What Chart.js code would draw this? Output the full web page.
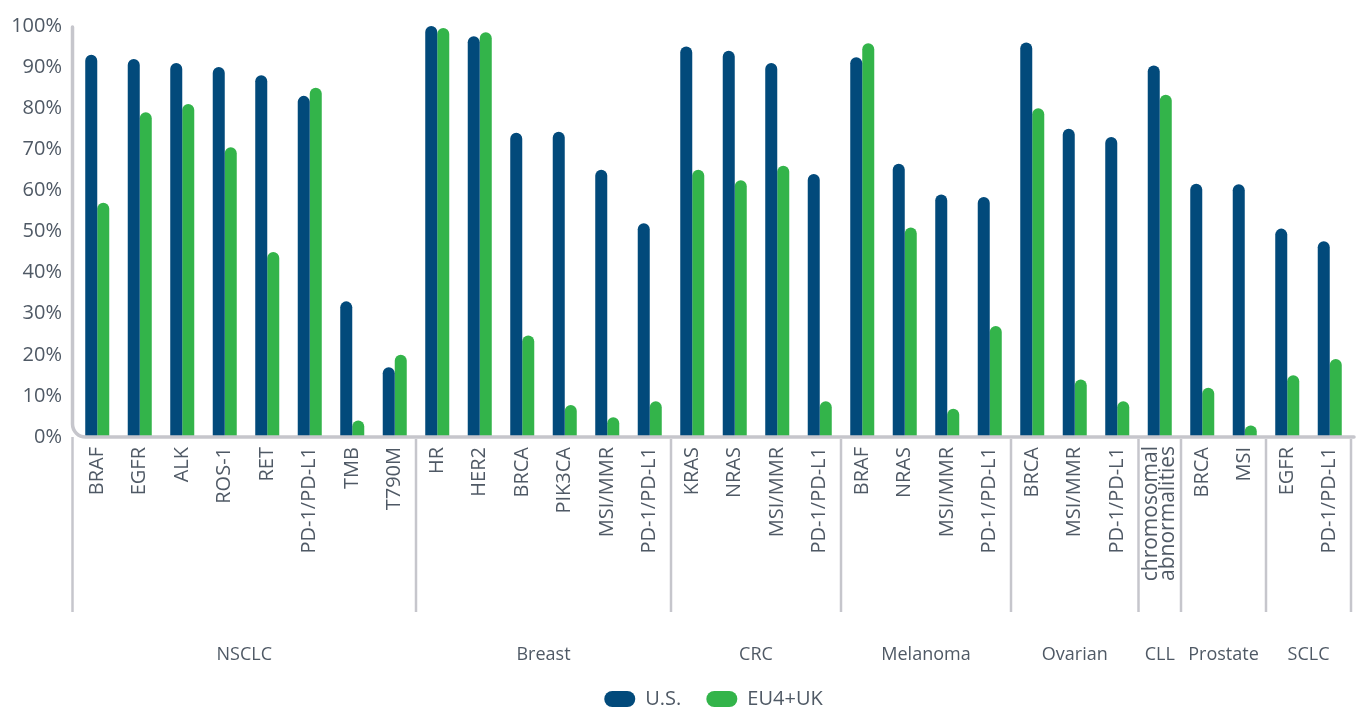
<!DOCTYPE html>
<html lang="en">
<head>
  <meta charset="UTF-8" />
  <title>Biomarker testing rates - U.S. vs EU4+UK</title>
  <script src="https://cdn.jsdelivr.net/npm/chart.js"></script>
  <style>
    html, body { margin: 0; padding: 0; background: #ffffff; }
    .chart-box { width: 1360px; height: 708px; position: relative; }
  </style>
</head>
<body>
  <div class="chart-box">
    <canvas id="testingChart"></canvas>
  </div>

  <script>
    const categories = [
      'BRAF', 'EGFR', 'ALK', 'ROS-1', 'RET', 'PD-1/PD-L1', 'TMB', 'T790M',
      'HR', 'HER2', 'BRCA', 'PIK3CA', 'MSI/MMR', 'PD-1/PD-L1',
      'KRAS', 'NRAS', 'MSI/MMR', 'PD-1/PD-L1',
      'BRAF', 'NRAS', 'MSI/MMR', 'PD-1/PD-L1',
      'BRCA', 'MSI/MMR', 'PD-1/PD-L1',
      ['chromosomal', 'abnormalities'],
      'BRCA', 'MSI',
      'EGFR', 'PD-1/PD-L1'
    ];
    const groupNames = ['NSCLC', 'Breast', 'CRC', 'Melanoma', 'Ovarian', 'CLL', 'Prostate', 'SCLC'];
    const groupSizes = [8, 6, 4, 4, 3, 1, 2, 2];

    const usValues = [93, 92, 91, 90, 88, 83, 33, 17, 100, 97.5, 74, 74.3, 65, 52, 95, 94, 91, 64,
                      92.4, 66.5, 59, 58.4, 96, 75, 73, 90.4, 61.6, 61.5, 50.7, 47.6];
    const euValues = [57, 79, 81, 70.5, 45, 85, 4, 20, 99.5, 98.5, 24.7, 7.8, 4.8, 8.7, 65, 62.5, 66, 8.7,
                      95.8, 51, 6.9, 27, 80, 14, 8.7, 83.3, 12, 2.8, 15, 19];
    const yTicks = [0, 10, 20, 30, 40, 50, 60, 70, 80, 90, 100];

    const textColor = '#4f5965';
    const lineColor = '#c6c6cc';
    const tickPad = 10;

    Chart.defaults.font.family = "'Open Sans', sans-serif";
    Chart.defaults.color = textColor;

    // gray L-shaped axis with a rounded corner, group separators and group names
    const groupAxis = {
      id: 'groupAxis',
      afterLayout(chart) {
        // legend is centred under the plot area, not the whole canvas
        const lg = chart.legend;
        lg.left = chart.chartArea.left;
        lg.right = chart.chartArea.right;
        lg.width = lg.right - lg.left;
      },
      afterDatasetsDraw(chart) {
        const { ctx, chartArea, scales } = chart;
        const x = scales.x;
        const half = (x.getPixelForValue(1) - x.getPixelForValue(0)) / 2;
        const axisX = chartArea.left - 3.5;
        const axisY = chartArea.bottom;
        const sepBottom = 612;
        const r = 13;

        ctx.save();
        ctx.strokeStyle = lineColor;
        ctx.lineCap = 'round';
        ctx.lineWidth = 3.5;
        ctx.beginPath();
        ctx.moveTo(axisX, chartArea.top + 1);
        ctx.lineTo(axisX, axisY - r);
        ctx.arcTo(axisX, axisY, axisX + r, axisY, r);
        ctx.lineTo(chartArea.right + 3, axisY);
        ctx.stroke();

        ctx.lineCap = 'butt';
        ctx.lineWidth = 2.5;
        ctx.beginPath();
        ctx.moveTo(axisX, axisY);
        ctx.lineTo(axisX, sepBottom);
        ctx.stroke();

        let start = 0;
        ctx.fillStyle = textColor;
        ctx.font = "18px 'Open Sans', sans-serif";
        ctx.textAlign = 'center';
        ctx.textBaseline = 'middle';
        groupSizes.forEach((size, i) => {
          const end = start + size - 1;
          const left = x.getPixelForValue(start) - half;
          const right = x.getPixelForValue(end) + half;
          ctx.beginPath();
          ctx.moveTo(right, axisY + 2);
          ctx.lineTo(right, sepBottom);
          ctx.stroke();
          const cx = i === 0 ? (axisX + right) / 2 : (left + right) / 2;
          ctx.fillText(groupNames[i], cx, 655);
          start += size;
        });

        // two-line category labels, centred on their tick
        ctx.font = "21px 'Open Sans', sans-serif";
        ctx.textAlign = 'right';
        categories.forEach((lab, i) => {
          if (!Array.isArray(lab)) return;
          const px = x.getPixelForValue(i);
          lab.forEach((line, j) => {
            const cx = px + (j - (lab.length - 1) / 2) * 17;
            ctx.save();
            ctx.translate(cx, axisY + tickPad - 1);
            ctx.rotate(-Math.PI / 2);
            ctx.fillText(line, 0, 0);
            ctx.restore();
          });
        });
        ctx.restore();
      }
    };

    new Chart(document.getElementById('testingChart'), {
      type: 'bar',
      data: {
        labels: categories,
        datasets: [
          {
            label: 'U.S.',
            data: usValues,
            backgroundColor: '#024a7b',
            borderRadius: 6,
            borderSkipped: 'start',
            categoryPercentage: 0.565,
            barPercentage: 1.0
          },
          {
            label: 'EU4+UK',
            data: euValues,
            backgroundColor: '#33b44a',
            borderRadius: 6,
            borderSkipped: 'start',
            categoryPercentage: 0.565,
            barPercentage: 1.0
          }
        ]
      },
      options: {
        responsive: true,
        maintainAspectRatio: false,
        animation: false,
        layout: {
          padding: { top: 18, right: 9, left: 0, bottom: -11 }
        },
        plugins: {
          tooltip: { enabled: false },
          legend: {
            position: 'bottom',
            labels: {
              boxWidth: 31,
              boxHeight: 16,
              useBorderRadius: true,
              borderRadius: 8,
              padding: 25,
              color: textColor,
              font: { size: 20 }
            }
          }
        },
        scales: {
          x: {
            grid: { display: false, drawTicks: false },
            border: { display: false },
            ticks: {
              autoSkip: false,
              maxRotation: 90,
              minRotation: 90,
              padding: tickPad,
              // multi-line labels are drawn by the plugin above
              color: (c) => Array.isArray(categories[c.index]) ? 'rgba(0,0,0,0)' : textColor,
              font: { size: 20, lineHeight: '18px' }
            },
            afterFit: (scale) => { scale.height = 227; }
          },
          y: {
            min: 0,
            max: 100,
            grid: { display: false, drawTicks: false },
            border: { display: false },
            afterBuildTicks: (scale) => { scale.ticks = yTicks.map(v => ({ value: v })); },
            ticks: {
              padding: 14,
              color: textColor,
              font: { size: 20 },
              callback: (v) => v + '%'
            },
            afterFit: (scale) => { scale.width = 76; }
          }
        }
      },
      plugins: [groupAxis]
    });
  </script>
</body>
</html>
